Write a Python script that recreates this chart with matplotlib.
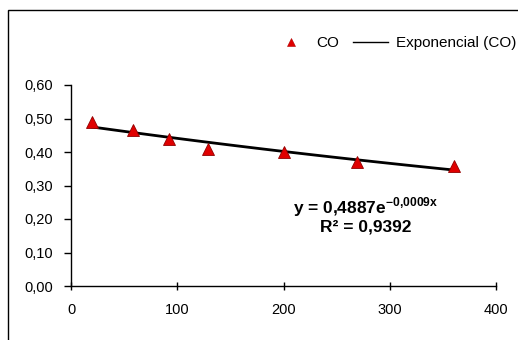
import numpy as np
import matplotlib
matplotlib.use('Agg')
import matplotlib.pyplot as plt
from matplotlib.ticker import FuncFormatter
from matplotlib.patches import Rectangle
from matplotlib.lines import Line2D

# data
x_vals = [20, 58, 92, 129, 200, 269, 360]
co_vals = [0.49, 0.465, 0.44, 0.41, 0.40, 0.37, 0.357]
x_ticks = [0, 100, 200, 300, 400]
y_ticks = [0.0, 0.1, 0.2, 0.3, 0.4, 0.5, 0.6]

plt.rcParams['font.family'] = ['Liberation Sans', 'DejaVu Sans']
plt.rcParams['mathtext.fontset'] = 'custom'
plt.rcParams['mathtext.rm'] = 'Liberation Sans'
plt.rcParams['mathtext.bf'] = 'Liberation Sans:bold'

fig = plt.figure(figsize=(5.18, 3.4), dpi=100)
fig.patches.append(Rectangle((8/518, -0.1), 1.2, 1 - 10/340 + 0.1, transform=fig.transFigure,
                             fill=False, edgecolor='black', linewidth=1.0))

ax = fig.add_axes([71/518, 1 - 286/340, 425/518, 201/340])

# exponential trend, fitted on log values
x = np.array(x_vals, dtype=float)
y = np.array(co_vals)
b, ln_a = np.polyfit(x, np.log(y), 1)
xs = np.linspace(x.min(), x.max(), 100)
ax.plot(xs, np.exp(ln_a) * np.exp(b * xs), color='black', linewidth=2.0, zorder=2)
ax.plot(x, y, linestyle='none', marker='^', markersize=8, markerfacecolor='#e00000',
        markeredgecolor='#900000', markeredgewidth=0.6, zorder=3)

ax.set_xlim(0, 400)
ax.set_ylim(0, 0.6)
ax.set_xticks(x_ticks)
ax.set_yticks(y_ticks)
ax.yaxis.set_major_formatter(FuncFormatter(lambda v, p: f'{v:.2f}'.replace('.', ',')))
ax.spines['top'].set_visible(False)
ax.spines['right'].set_visible(False)
for s in ('left', 'bottom'):
    ax.spines[s].set_linewidth(1.0)
ax.tick_params(labelsize=10.5, width=1.0, colors='black')
ax.tick_params(axis='x', direction='inout', length=6, pad=9)
ax.tick_params(axis='y', direction='out', length=5, pad=8)

ax.text(277, 0.236, r'y = 0,4887e$^{\mathbf{-0{,}0009x}}$', ha='center', va='center',
        fontsize=12.5, fontweight='bold')
ax.text(277, 0.176, 'R² = 0,9392', ha='center', va='center', fontsize=12.5, fontweight='bold')

handles = [Line2D([], [], linestyle='none', marker='^', markersize=6, markerfacecolor='#e00000',
                  markeredgecolor='#b00000', markeredgewidth=0.4),
           Line2D([], [], color='black', linewidth=1.0)]
fig.legend(handles, ['CO', 'Exponencial (CO)'], loc='center right',
           bbox_to_anchor=(516/518, 1 - 43/340), ncol=2, frameon=False, fontsize=11,
           handlelength=2.3, columnspacing=0.9, handletextpad=0.5, borderpad=0,
           borderaxespad=0)

fig.savefig('out.png', dpi=100)
